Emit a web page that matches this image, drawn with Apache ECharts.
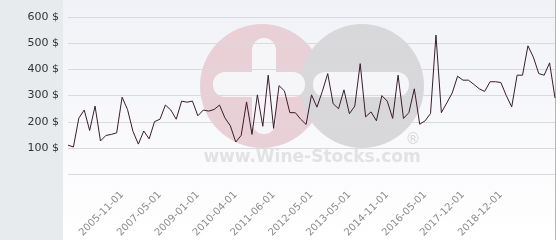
<!DOCTYPE html>
<html><head><meta charset="utf-8">
<script src="https://cdn.jsdelivr.net/npm/echarts@6/dist/echarts.min.js"></script>
<style>html,body{margin:0;padding:0;background:#fff}#c{width:560px;height:240px}</style>
</head><body><div id="c"></div>
<script>
var values = [111,104,214,245,167,260,127,148,152,158,294,247,164,115,165,135,201,210,264,245,
  210,279,275,279,223,245,241,247,264,215,185,123,148,276,152,303,183,378,175,338,
  318,235,235,210,190,303,256,316,384,269,250,322,231,260,422,219,238,204,300,279,
  213,378,213,235,326,191,204,232,531,235,272,310,374,359,359,343,326,316,353,353,
  350,300,257,378,378,490,447,384,378,425,291];
var labelIndex = [10,17,24,31,38,45,52,59,66,73,80];
var labelText = ['2005-11-01','2007-05-01','2009-01-01','2010-04-01','2011-06-01','2012-05-01',
  '2013-05-01','2014-11-01','2016-05-01','2017-12-01','2018-12-01'];
var yTicks = [0,100,200,300,400,500,600];

var categories = values.map(function(v,i){
  var k = labelIndex.indexOf(i); return k >= 0 ? labelText[k] : ('p' + i);
});

var chart = echarts.init(document.getElementById('c'), null, {renderer:'canvas'});
chart.setOption({
  animation:false,
  backgroundColor:'#ffffff',
  graphic:[
    {type:'rect', z:-10, shape:{x:0,y:0,width:63,height:240}, style:{fill:'#e7ebee'}, silent:true},
    {type:'rect', z:-10, shape:{x:63,y:0,width:493,height:240},
      style:{fill:new echarts.graphic.LinearGradient(0,0,0,1,[{offset:0,color:'#f1f2f7'},{offset:1,color:'#ffffff'}])}, silent:true},
    {type:'rect', z:-9, shape:{x:555,y:0,width:1,height:240}, style:{fill:'#b5b5b8'}, silent:true},
    {type:'circle', z:-8, shape:{cx:262,cy:86,r:62}, style:{fill:'#e8d0d6'}, silent:true},
    {type:'circle', z:-8, shape:{cx:362,cy:86,r:62}, style:{fill:'#d8d8da'}, silent:true},
    {type:'rect', z:-7, shape:{x:213,y:72,width:92,height:25,r:12}, style:{fill:'#f6f6f9'}, silent:true},
    {type:'rect', z:-7, shape:{x:252,y:38,width:24,height:96,r:12}, style:{fill:'#f6f6f9'}, silent:true},
    {type:'rect', z:-7, shape:{x:313,y:72,width:96,height:25,r:12}, style:{fill:'#f6f6f9'}, silent:true},
    {type:'text', z:-7, style:{x:312,y:158,text:'www.Wine-Stocks.com',align:'center',verticalAlign:'middle',
      font:'bold 17px "DejaVu Sans"',fill:'#e2e2e4'}, silent:true},
    {type:'text', z:-7, style:{x:413,y:140,text:'®',align:'center',verticalAlign:'middle',
      font:'15px "DejaVu Sans"',fill:'#d8d8d8'}, silent:true}
  ],
  grid:{left:68,right:5,top:17,bottom:62,containLabel:false},
  xAxis:{type:'category',data:categories,boundaryGap:false,
    axisLine:{show:false},axisTick:{show:false},splitLine:{show:false},
    axisLabel:{rotate:45,margin:19,fontSize:10,fontFamily:'DejaVu Sans',color:'#8c8c8c',
      interval:function(i){return labelIndex.indexOf(i)>=0;},
      formatter:function(v,i){var k=labelIndex.indexOf(i);return k>=0?labelText[k]:'';}}},
  yAxis:{type:'value',min:yTicks[0],max:yTicks[yTicks.length-1],interval:100,
    axisLine:{show:false},axisTick:{show:false},
    splitLine:{lineStyle:{color:'#d9d9de',width:1}},
    axisLabel:{margin:9,fontSize:11,fontFamily:'DejaVu Sans',color:'#333',
      formatter:function(v){return v===0?'':v+' $';}}},
  series:[{type:'line',data:values,symbol:'none',smooth:false,
    lineStyle:{color:'#3b1c2c',width:1}}]
});
</script></body></html>
